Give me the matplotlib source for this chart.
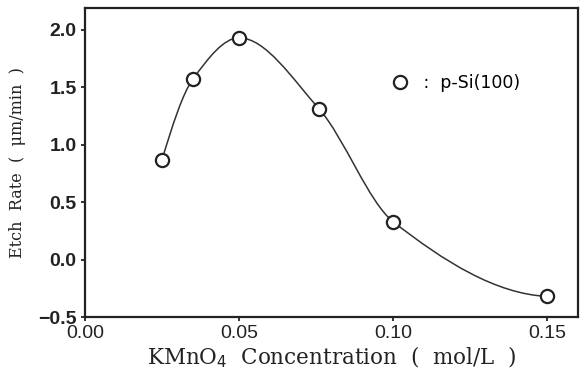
import matplotlib
matplotlib.use("Agg")
import matplotlib.pyplot as plt
from matplotlib.path import Path
from matplotlib.patches import PathPatch
import numpy as np

# data
conc = [0.025, 0.035, 0.05, 0.076, 0.10, 0.15]
rate = [0.87, 1.57, 1.93, 1.31, 0.33, -0.32]
xticks = [0.00, 0.05, 0.10, 0.15]
yticks = [-0.5, 0.0, 0.5, 1.0, 1.5, 2.0]

fig = plt.figure(figsize=(5.84, 3.78), dpi=100)
ax = fig.add_axes([0.1455, 0.161, 0.8445, 0.818])

# smooth guide line: pchip-style slopes, drawn as cubic bezier segments
px = np.array(conc)
py = np.array(rate)
n = len(px)
h = np.diff(px)
d = np.diff(py) / h
slope = np.zeros(n)
for i in range(1, n - 1):
    if d[i - 1] * d[i] > 0:
        w1 = 2 * h[i] + h[i - 1]
        w2 = h[i] + 2 * h[i - 1]
        slope[i] = (w1 + w2) / (w1 / d[i - 1] + w2 / d[i])
slope[0] = ((2 * h[0] + h[1]) * d[0] - h[0] * d[1]) / (h[0] + h[1])
slope[-1] = ((2 * h[-1] + h[-2]) * d[-1] - h[-1] * d[-2]) / (h[-1] + h[-2])
if slope[-1] * d[-1] <= 0:
    slope[-1] = 0.1 * d[-1]

verts = [(px[0], py[0])]
codes = [Path.MOVETO]
for i in range(n - 1):
    t = h[i] / 3
    verts += [(px[i] + t, py[i] + slope[i] * t),
              (px[i + 1] - t, py[i + 1] - slope[i + 1] * t),
              (px[i + 1], py[i + 1])]
    codes += [Path.CURVE4] * 3
ax.add_patch(PathPatch(Path(verts, codes), fill=False, lw=1.1, color="#333333"))

ax.plot(conc, rate, "o", ms=9.5, mfc="white", mec="#222222", mew=1.6,
        label=" :  p-Si(100)", zorder=3)

ax.set_xlim(0.0, 0.16)
ax.set_ylim(-0.5, 2.19)
ax.set_xticks(xticks)
ax.set_yticks(yticks)
ax.set_xticklabels(["%.2f" % v for v in xticks], fontsize=14,
                   family="Liberation Sans")
ax.set_yticklabels(["%.1f" % v if v >= 0 else "\u22120.5" for v in yticks],
                   fontsize=14, family="Liberation Sans", fontweight="bold")
ax.tick_params(direction="out", length=3, width=1.3, pad=3, colors="#222222")
for s in ax.spines.values():
    s.set_linewidth(1.6)
    s.set_color("#222222")

ax.set_xlabel("KMnO$_4$  Concentration  (  mol/L  )", fontsize=15.5,
              family="DejaVu Serif", labelpad=2, color="#222222")
ax.set_ylabel("Etch  Rate  (  \u03bcm/min  )", fontsize=11.5,
              family="DejaVu Serif", labelpad=9, color="#222222")

ax.legend(loc="center left", bbox_to_anchor=(0.59, 0.758), frameon=False,
          handletextpad=0.0, borderaxespad=0,
          prop={"family": "DejaVu Sans", "size": 12.5})

fig.savefig("out.png", dpi=100)
